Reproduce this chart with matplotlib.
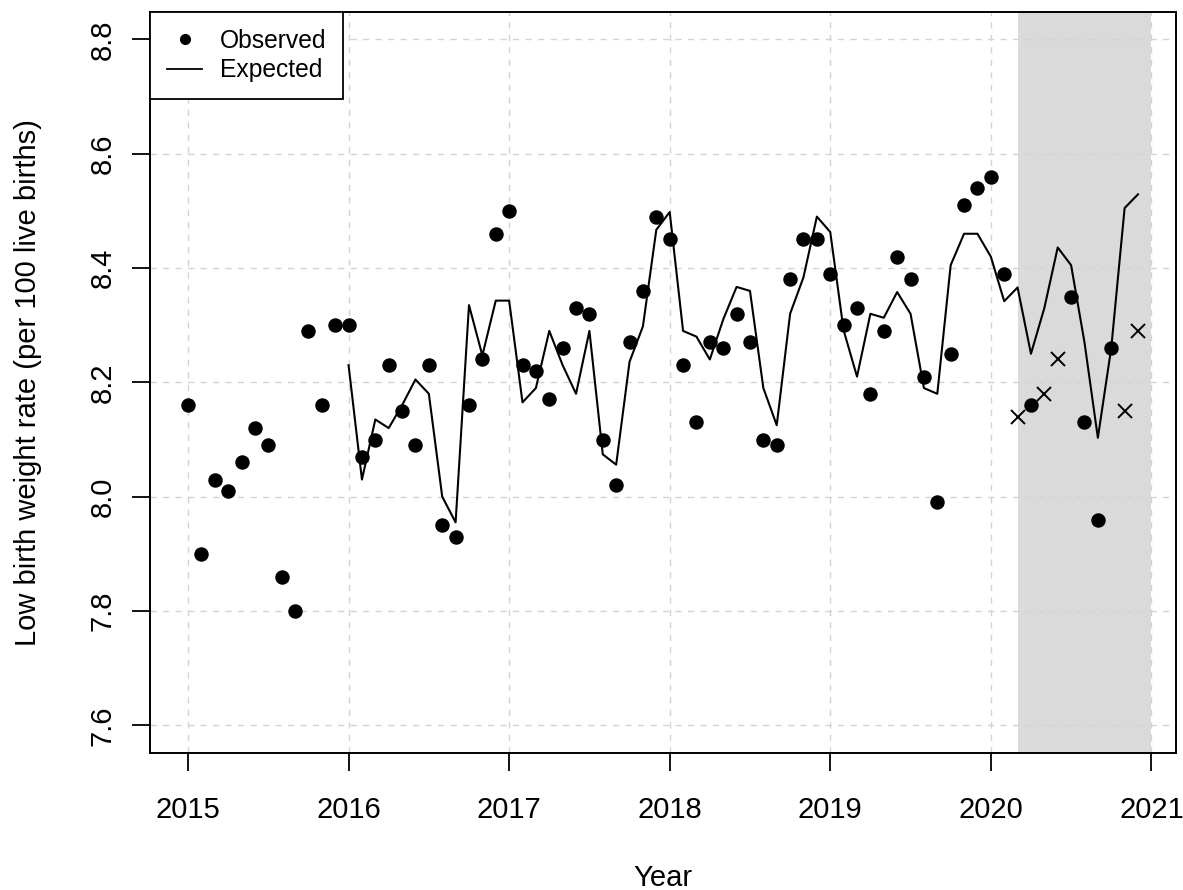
import numpy as np
import matplotlib
matplotlib.use("Agg")
import matplotlib.pyplot as plt
from matplotlib.lines import Line2D

plt.rcParams['font.family'] = ['Liberation Sans', 'DejaVu Sans']

# ---- data (monthly, Jan 2015 .. Dec 2020) ----
start_year = 2015
n_months = 72
observed = [8.16, 7.90, 8.03, 8.01, 8.06, 8.12, 8.09, 7.86, 7.80, 8.29, 8.16, 8.30,
            8.30, 8.07, 8.10, 8.23, 8.15, 8.09, 8.23, 7.95, 7.93, 8.16, 8.24, 8.46,
            8.50, 8.23, 8.22, 8.17, 8.26, 8.33, 8.32, 8.10, 8.02, 8.27, 8.36, 8.49,
            8.45, 8.23, 8.13, 8.27, 8.26, 8.32, 8.27, 8.10, 8.09, 8.38, 8.45, 8.45,
            8.39, 8.30, 8.33, 8.18, 8.29, 8.42, 8.38, 8.21, 7.99, 8.25, 8.51, 8.54,
            8.56, 8.39, np.nan, 8.16, np.nan, np.nan, 8.35, 8.13, 7.96, 8.26, np.nan, np.nan]
# months (index from Jan 2015) shown as crosses and their values
cross_months = [62, 64, 65, 70, 71]
cross_values = [8.14, 8.18, 8.24, 8.15, 8.29]
# expected series starts Jan 2016 (month index 12)
expected_start = 12
expected = [8.23, 8.03, 8.135, 8.12, 8.16, 8.205, 8.18, 8.00, 7.955, 8.335, 8.247, 8.343,
            8.343, 8.165, 8.19, 8.29, 8.23, 8.18, 8.29, 8.074, 8.056, 8.236, 8.298, 8.467,
            8.498, 8.29, 8.28, 8.24, 8.31, 8.367, 8.36, 8.19, 8.125, 8.32, 8.384, 8.49,
            8.463, 8.291, 8.21, 8.32, 8.313, 8.358, 8.32, 8.19, 8.18, 8.405, 8.46, 8.46,
            8.42, 8.342, 8.366, 8.25, 8.33, 8.436, 8.405, 8.27, 8.103, 8.26, 8.505, 8.529]
shade_start = 2020 + 2 / 12
shade_end = 2021.0
x_ticks = [2015, 2016, 2017, 2018, 2019, 2020, 2021]
y_ticks = [7.6, 7.8, 8.0, 8.2, 8.4, 8.6, 8.8]

t = start_year + np.arange(n_months) / 12.0
t_exp = t[expected_start:]
t_cross = start_year + np.array(cross_months) / 12.0

fig = plt.figure(figsize=(11.83, 8.90), dpi=100)
ax = fig.add_axes([150 / 1183, 1 - 752.7 / 890, (1176 - 150) / 1183, (752.7 - 12) / 890])

ax.axvspan(shade_start, shade_end, color='#dadada', lw=0, zorder=0.2)
ax.set_axisbelow(True)
ax.grid(True, color='#d3d3d3', lw=1.0, dashes=(4.5, 4.5))

ax.plot(t_exp, expected, color='black', lw=1.5, zorder=3)
ax.plot(t, observed, 'o', color='black', ms=9.4, zorder=4)
ax.plot(t_cross, cross_values, 'x', color='black', ms=9.6, mew=1.4, zorder=4)

xr = t[-1] - t[0]
ax.set_xlim(t[0] - 0.04 * xr, t[-1] + 0.04 * xr)
ax.set_ylim(7.6 - 0.048, 8.8 + 0.048)
ax.set_xticks(x_ticks)
ax.set_yticks(y_ticks)
ax.set_yticklabels([f"{v:.1f}" for v in y_ticks], rotation=90, va='center')

for s in ax.spines.values():
    s.set_linewidth(1.4)
ax.tick_params(axis='both', direction='out', length=13, width=1.3, labelsize=21)
ax.tick_params(axis='x', pad=18.5)
ax.tick_params(axis='y', pad=11)

ax.set_xlabel('Year', fontsize=21)
ax.set_ylabel('Low birth weight rate (per 100 live births)', fontsize=21)
ax.xaxis.set_label_coords(0.5, (752.7 - 864) / 740.7)
ax.yaxis.set_label_coords((42 - 150) / 1026, 0.5)

handles = [Line2D([], [], marker='o', ls='none', color='black', ms=7),
           Line2D([], [], color='black', lw=1.3)]
leg = ax.legend(handles, ['Observed', 'Expected'], loc='upper left', fontsize=17.7,
                frameon=True, fancybox=False, borderaxespad=0, borderpad=0.68,
                handlelength=1.45, handletextpad=0.7, labelspacing=0.22)
leg.get_frame().set_edgecolor('black')
leg.get_frame().set_linewidth(1.3)
leg.get_frame().set_alpha(1)

fig.savefig('out.png', dpi=100)
